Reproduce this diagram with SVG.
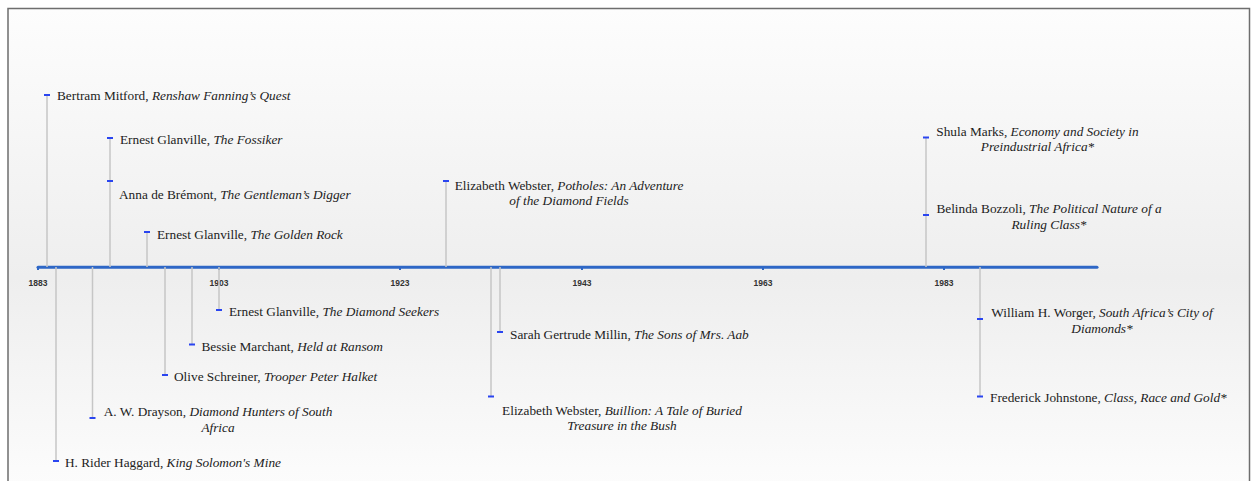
<svg xmlns="http://www.w3.org/2000/svg" width="1252" height="481" viewBox="0 0 1252 481">
<defs>
<linearGradient id="bg" x1="0" y1="0" x2="0" y2="1">
<stop offset="0" stop-color="#fdfdfd"/>
<stop offset="0.55" stop-color="#eeeeee"/>
<stop offset="1" stop-color="#fdfdfd"/>
</linearGradient>
<style>
.lbl{font-family:"Liberation Serif","Times New Roman",serif;font-size:13.3px;fill:#222}
.it{font-style:italic}
.yr{font-family:"Liberation Sans",Arial,sans-serif;font-size:8.5px;font-weight:bold;fill:#333;text-anchor:middle}
.mid{text-anchor:middle}
.stem{stroke:#c6c6c6;stroke-width:1.5;fill:none}
.mk{fill:#2a45f0}
.tick{fill:#2e67c6}
</style>
</defs>
<rect x="0" y="0" width="1252" height="481" fill="#ffffff"/>
<rect x="8" y="8.5" width="1241.5" height="490" fill="url(#bg)" stroke="#6e6e6e" stroke-width="1.5"/>

<g id="axis">
<line x1="38" y1="267.3" x2="1097" y2="267.3" stroke="#2e67c6" stroke-width="3" stroke-linecap="round"/>
<rect class="tick" x="37" y="267" width="2" height="3"/>
<rect class="tick" x="218" y="267" width="2" height="3"/>
<rect class="tick" x="399" y="267" width="2" height="3"/>
<rect class="tick" x="581" y="267" width="2" height="3"/>
<rect class="tick" x="762" y="267" width="2" height="3"/>
<rect class="tick" x="943" y="267" width="2" height="3"/>
<text class="yr" x="38" y="286">1883</text>
<text class="yr" x="219" y="286">1903</text>
<text class="yr" x="400" y="286">1923</text>
<text class="yr" x="582" y="286">1943</text>
<text class="yr" x="763" y="286">1963</text>
<text class="yr" x="944" y="286">1983</text>
</g>

<g id="connectors">
<line class="stem" x1="47" y1="95" x2="47" y2="267"/>
<line class="stem" x1="110" y1="138" x2="110" y2="267"/>
<line class="stem" x1="147" y1="232" x2="147" y2="267"/>
<line class="stem" x1="446" y1="181" x2="446" y2="267"/>
<line class="stem" x1="926" y1="137" x2="926" y2="267"/>
<line class="stem" x1="56" y1="267" x2="56" y2="461"/>
<line class="stem" x1="92.5" y1="267" x2="92.5" y2="418"/>
<line class="stem" x1="165" y1="267" x2="165" y2="375"/>
<line class="stem" x1="192" y1="267" x2="192" y2="344.5"/>
<line class="stem" x1="219" y1="267" x2="219" y2="310"/>
<line class="stem" x1="500" y1="267" x2="500" y2="332"/>
<line class="stem" x1="491" y1="267" x2="491" y2="396.5"/>
<line class="stem" x1="980" y1="267" x2="980" y2="397"/>
</g>

<g id="ev-mitford">
<rect class="mk" x="44" y="94" width="6" height="2"/>
<text class="lbl" x="57" y="100">Bertram Mitford, <tspan class="it">Renshaw Fanning’s Quest</tspan></text>
</g>
<g id="ev-glanville-fossiker">
<rect class="mk" x="107" y="137" width="6" height="2"/>
<text class="lbl" x="120" y="144">Ernest Glanville, <tspan class="it">The Fossiker</tspan></text>
</g>
<g id="ev-bremont">
<rect class="mk" x="107" y="180" width="6" height="2"/>
<text class="lbl" x="119" y="198.5">Anna de Brémont, <tspan class="it">The Gentleman’s Digger</tspan></text>
</g>
<g id="ev-glanville-rock">
<rect class="mk" x="144" y="231" width="6" height="2"/>
<text class="lbl" x="157" y="238.5">Ernest Glanville, <tspan class="it">The Golden Rock</tspan></text>
</g>
<g id="ev-webster-potholes">
<rect class="mk" x="443" y="180" width="6" height="2"/>
<text class="lbl mid" x="569" y="189.5">Elizabeth Webster, <tspan class="it">Potholes: An Adventure</tspan></text>
<text class="lbl mid it" x="569" y="205">of the Diamond Fields</text>
</g>
<g id="ev-marks">
<rect class="mk" x="923" y="136.5" width="6" height="2"/>
<text class="lbl mid" x="1037.5" y="136">Shula Marks, <tspan class="it">Economy and Society in</tspan></text>
<text class="lbl mid it" x="1037.5" y="151">Preindustrial Africa*</text>
</g>
<g id="ev-bozzoli">
<rect class="mk" x="923" y="214" width="6" height="2"/>
<text class="lbl mid" x="1049" y="213">Belinda Bozzoli, <tspan class="it">The Political Nature of a</tspan></text>
<text class="lbl mid it" x="1049" y="228.5">Ruling Class*</text>
</g>

<g id="ev-haggard">
<rect class="mk" x="53" y="460" width="6" height="2"/>
<text class="lbl" x="65" y="467">H. Rider Haggard, <tspan class="it">King Solomon's Mine</tspan></text>
</g>
<g id="ev-drayson">
<rect class="mk" x="89.5" y="417" width="6" height="2"/>
<text class="lbl mid" x="218" y="416">A. W. Drayson, <tspan class="it">Diamond Hunters of South</tspan></text>
<text class="lbl mid it" x="218" y="432">Africa</text>
</g>
<g id="ev-schreiner">
<rect class="mk" x="162" y="374" width="6" height="2"/>
<text class="lbl" x="174" y="381">Olive Schreiner, <tspan class="it">Trooper Peter Halket</tspan></text>
</g>
<g id="ev-marchant">
<rect class="mk" x="189" y="343.5" width="6" height="2"/>
<text class="lbl" x="201.5" y="350.5">Bessie Marchant, <tspan class="it">Held at Ransom</tspan></text>
</g>
<g id="ev-glanville-seekers">
<rect class="mk" x="216" y="309" width="6" height="2"/>
<text class="lbl" x="229" y="316">Ernest Glanville, <tspan class="it">The Diamond Seekers</tspan></text>
</g>
<g id="ev-millin">
<rect class="mk" x="497" y="331" width="6" height="2"/>
<text class="lbl" x="510" y="338.5">Sarah Gertrude Millin, <tspan class="it">The Sons of Mrs. Aab</tspan></text>
</g>
<g id="ev-webster-buillion">
<rect class="mk" x="488" y="395.5" width="6" height="2"/>
<text class="lbl mid" x="622" y="414.5">Elizabeth Webster, <tspan class="it">Buillion: A Tale of Buried</tspan></text>
<text class="lbl mid it" x="622" y="430">Treasure in the Bush</text>
</g>
<g id="ev-worger">
<rect class="mk" x="977" y="318" width="6" height="2"/>
<text class="lbl mid" x="1102" y="317">William H. Worger, <tspan class="it">South Africa’s City of</tspan></text>
<text class="lbl mid it" x="1102" y="333">Diamonds*</text>
</g>
<g id="ev-johnstone">
<rect class="mk" x="977" y="395.5" width="6" height="2"/>
<text class="lbl" x="990" y="402">Frederick Johnstone, <tspan class="it">Class, Race and Gold*</tspan></text>
</g>
</svg>
